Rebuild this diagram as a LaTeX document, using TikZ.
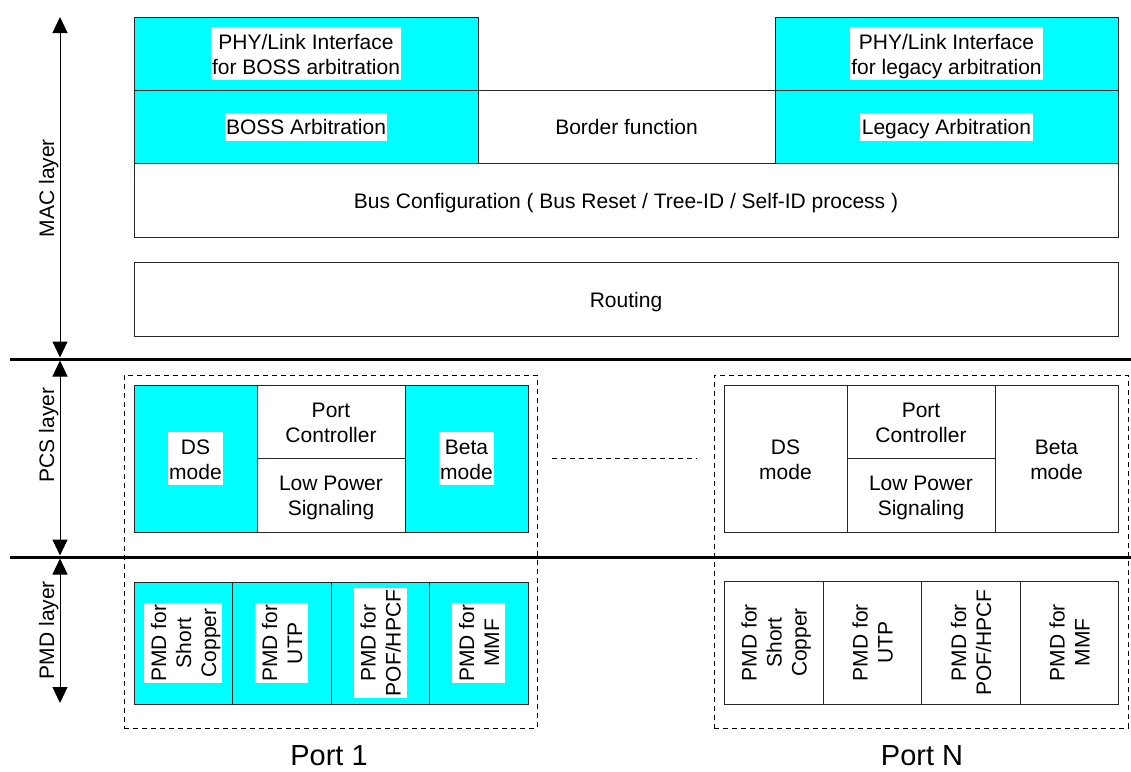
\documentclass[tikz,border=0pt]{standalone}
\usepackage{fontspec}
\setmainfont{Liberation Sans}
\usetikzlibrary{arrows.meta,fit}
\definecolor{aqua}{RGB}{0,255,255}
\newcommand\ls{\rule[-4.5pt]{0pt}{25pt}}
\begin{document}
\begin{tikzpicture}[x=1pt,y=-1pt,
  every node/.style={font=\fontsize{21}{25}\selectfont},
  blk/.style={draw=black!85, line width=1pt, inner sep=0pt},
  cy/.style={blk, fill=aqua},
  wt/.style={blk, fill=white},
  lbl/.style={fill=white, inner sep=1.5pt, align=center},
  vlbl/.style={lbl, rotate=90},
  portbox/.style={draw, line width=1pt, dash pattern=on 5pt off 4pt, inner sep=0pt},
  sepline/.style={line width=3pt},
  dimline/.style={line width=1pt, {Triangle[length=16pt,width=15pt]}-{Triangle[length=16pt,width=15pt]}},
  portlbl/.style={font=\fontsize{29}{34}\selectfont},
  layerlbl/.style={rotate=90},
]
\useasboundingbox (0,0) rectangle (1131,771);

% MAC layer
\node[cy, fit={(134,17) (478,90)}] (phyB) {};
\node[lbl] (phyBt) at (phyB) {\ls PHY/Link Interface\\\ls for BOSS arbitration};
\node[cy, fit={(775,17) (1118,90)}] (phyL) {};
\node[lbl] (phyLt) at (phyL) {\ls PHY/Link Interface\\\ls for legacy arbitration};
\node[cy, fit={(134,90) (478,163)}] (bossA) {};
\node[lbl] (bossAt) at (bossA) {\ls BOSS Arbitration};
\node[wt, fit={(478,90) (775,163)}] (border) {};
\node[lbl] (bordert) at (border) {\ls Border function};
\node[cy, fit={(775,90) (1118,163)}] (legA) {};
\node[lbl] (legAt) at (legA) {\ls Legacy Arbitration};
\node[wt, fit={(134,163) (1118,237)}] (bus) {};
\node[lbl] (bust) at (bus) {\ls Bus Configuration ( Bus Reset / Tree-ID / Self-ID process )};
\node[wt, fit={(134,262) (1118,336)}] (routing) {};
\node[lbl] (routingt) at (routing) {\ls Routing};

% separators
\coordinate (s1l) at (10,359); \coordinate (s1r) at (1131,359);
\coordinate (s2l) at (10,557); \coordinate (s2r) at (1131,557);
\draw[sepline] (s1l) -- (s1r);
\draw[sepline] (s2l) -- (s2r);

% layer axis
\coordinate (a0) at (60,17);
\coordinate (a1) at (60,357.5);
\coordinate (a2) at (60,360.5);
\coordinate (a3) at (60,555.5);
\coordinate (a4) at (60,558.5);
\coordinate (a5) at (60,703);
\draw[dimline] (a0) -- (a1);
\draw[dimline] (a2) -- (a3);
\draw[dimline] (a4) -- (a5);
\node[layerlbl] (macl) at (46,188) {\ls MAC layer};
\node[layerlbl] (pcsl) at (46,435) {\ls PCS layer};
\node[layerlbl] (pmdl) at (46,630) {\ls PMD layer};

% Port 1
\node[portbox, fit={(124,375) (537,728)}] (port1) {};
\node[cy, fit={(134,385) (257,532)}] (ds1) {};
\node[lbl] (ds1t) at (ds1) {\ls DS\\\ls mode};
\node[wt, fit={(257,385) (405,458)}] (pc1) {};
\node[lbl] (pc1t) at (pc1) {\ls Port\\\ls Controller};
\node[wt, fit={(257,458) (405,532)}] (lp1) {};
\node[lbl] (lp1t) at (lp1) {\ls Low Power\\\ls Signaling};
\node[cy, fit={(405,385) (528,532)}] (beta1) {};
\node[lbl] (beta1t) at (beta1) {\ls Beta\\\ls mode};
\node[cy, fit={(134,582) (232,704)}] (pa1) {};
\node[vlbl] (pa1t) at (pa1) {\ls PMD for\\\ls Short\\\ls Copper};
\node[cy, fit={(232,582) (331,704)}] (pb1) {};
\node[vlbl] (pb1t) at (pb1) {\ls PMD for\\\ls UTP};
\node[cy, fit={(331,582) (429,704)}] (pc1m) {};
\node[vlbl] (pc1mt) at (pc1m) {\ls PMD for\\\ls POF/HPCF};
\node[cy, fit={(429,582) (528,704)}] (pd1) {};
\node[vlbl] (pd1t) at (pd1) {\ls PMD for\\\ls MMF};
\node[portlbl] (port1l) at (329,756) {Port 1};

% Port N
\node[portbox, fit={(714,375) (1128,728)}] (portN) {};
\node[wt, fit={(724,385) (847,532)}] (dsN) {};
\node[lbl] (dsNt) at (dsN) {\ls DS\\\ls mode};
\node[wt, fit={(847,385) (995,458)}] (pcN) {};
\node[lbl] (pcNt) at (pcN) {\ls Port\\\ls Controller};
\node[wt, fit={(847,458) (995,532)}] (lpN) {};
\node[lbl] (lpNt) at (lpN) {\ls Low Power\\\ls Signaling};
\node[wt, fit={(995,385) (1118,532)}] (betaN) {};
\node[lbl] (betaNt) at (betaN) {\ls Beta\\\ls mode};
\node[wt, fit={(724,581) (823,704)}] (paN) {};
\node[vlbl] (paNt) at (paN) {\ls PMD for\\\ls Short\\\ls Copper};
\node[wt, fit={(823,581) (921,704)}] (pbN) {};
\node[vlbl] (pbNt) at (pbN) {\ls PMD for\\\ls UTP};
\node[wt, fit={(921,581) (1020,704)}] (pcNm) {};
\node[vlbl] (pcNmt) at (pcNm) {\ls PMD for\\\ls POF/HPCF};
\node[wt, fit={(1020,581) (1118,704)}] (pdN) {};
\node[vlbl] (pdNt) at (pdN) {\ls PMD for\\\ls MMF};
\node[portlbl] (portNl) at (922,756) {Port N};

% dashed continuation between ports
\coordinate (dl) at (552,458);
\coordinate (dr) at (697,458);
\draw[line width=1pt, dash pattern=on 5pt off 4pt] (dl) -- (dr);
\end{tikzpicture}
\end{document}
